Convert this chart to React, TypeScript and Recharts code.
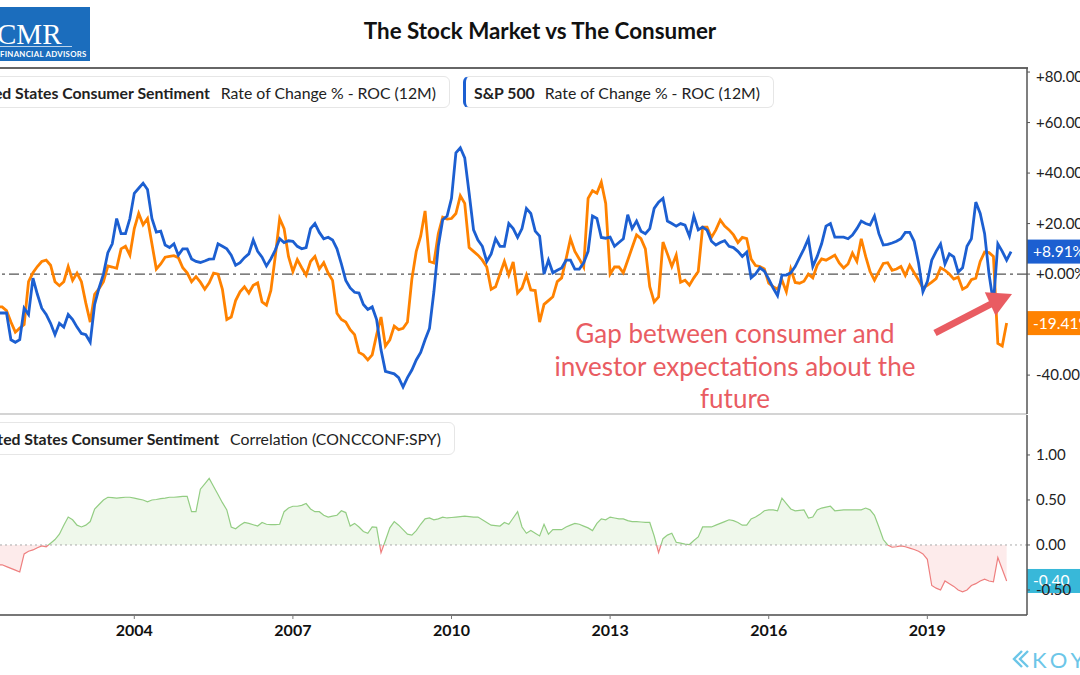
import { LineChart, Line, AreaChart, Area, XAxis, YAxis, ReferenceLine } from "recharts";

// monthly series, first point = May 2001
const startYear = 2001;
const startMonth = 5;

const sentimentRoc = [
  -12, -13, -13, -14.5, -19, -23, -21.4, -20, -3, 0.5,
  3, 5, 5.5, 3.5, -3, -4.6, -3, 3, -2.5, 0.4,
  -3, -11.5, -19, -8, -5.8, -3, 3.2, 2.8, 2.3, 10,
  11, 7.5, 18, 24, 19.5, 22, 12, 2, 4, 6.7,
  7, 7.3, 6.5, 2.5, 0.5, -3, -1, -3.2, -6, -3.5,
  0.4, 0, -6, -18, -17, -10.5, -7, -5, -7.5, -4.4,
  -3.5, -11, -12.3, -6.5, 7, 22, 18, 7, 1, 5.7,
  2.5, -0.4, 5, 7, 2, 4.5, 0.4, -2.5, -15.5, -18,
  -19, -22, -24, -31, -32, -34, -32, -24, -17, -28.5,
  -26, -20.6, -22, -21.5, -19, -2, 9, 15, 25, 5,
  4.4, 16, 22.5, 21.8, 22, 24, 31, 28, 10.5, 9,
  7.5, 5.5, 2.8, -6, -5, 0, 5, -0.4, 4.8, -7.5,
  -5.5, -0.4, -6.3, -6.5, -19, -12, -10.5, -9, -3, -1.5,
  6, 14, 9, 6, 2.8, 30, 33, 32, 36.4, 28,
  0, 2.8, 2.8, 0.5, 5.5, 10.5, 15.5, 14, 10, -5,
  -11, -9, 12.7, 8, 3, 7.5, -3.2, -2.4, -4.4, -1.5,
  1, 18.6, 18.6, 14.5, 17.5, 21.4, 19, 17.5, 15.5, 12.5,
  14.5, 14, 6, 3.4, 3, 2, -3.6, -5, -6, -2.4,
  -7, 2, -3.3, -3.6, -2.8, 0, -1.5, 3.5, 6, 5.5,
  6.5, 7.5, 4.4, 2.4, 4, 8.3, 5, 14, 7, 1,
  -2.4, 1, 4.2, 4.5, 1.5, 2, 3, -0.5, 3.5, 0.5,
  -2.4, -5.5, -4.5, -3.2, -1.8, 2.5, 1.5, 0, -2, -1.2,
  -6, -5, -2.2, -1.6, 5, 8.7, 8.5, 7, -27.5, -28.5,
  -19.41,
];

const spxRoc = [
  -15, -15.4, -15.4, -15.4, -26, -27, -26, -13.5, -16, -1.6,
  -8, -13.5, -16, -19.5, -24, -19.5, -21, -16, -18, -21,
  -23.5, -24, -27, -12, -5.5, 0, 8.5, 12, 22, 16,
  16, 22, 32, 34, 36, 33.5, 22, 16.6, 17, 11.5,
  10.5, 12, 7.5, 10, 10, 6, 5, 4.6, 5.2, 5.9,
  6, 12, 11, 10, 7.5, 3.5, 4.5, 6.5, 8, 13.5,
  9, 6.7, 3.2, 6, 9.5, 14, 12.5, 13.2, 13, 11,
  10, 10.5, 18, 20, 16.5, 14, 14.6, 13.5, 10, 4,
  -2.5, -5.5, -7.2, -7.5, -12, -14, -13, -18, -30, -38.5,
  -39, -39.5, -41, -44.7, -41, -38, -34, -31, -26, -21.5,
  -7, 11, 21.5, 23, 30, 48, 50, 46, 32, 17.5,
  13.5, 11, 5, 8, 14, 11, 11, 20, 18, 14.5,
  18, 26, 24, 17, 15, 0, 5.5, 0.5, 1.5, 2.4,
  5.5, 5.5, 2, 2, 4.5, 9, 23, 22, 14.5, 14.2,
  14.6, 11, 12.5, 14, 23.5, 18, 21, 17, 16, 18,
  26, 28.5, 30, 21, 20, 19, 20, 19.4, 15, 23,
  17.5, 18.6, 17.4, 13, 11.5, 12.5, 13.2, 11, 10.5, 9,
  7, 8.7, -1.5, 0, 2.5, 1.2, -2, -5.5, -8.5, -0.4,
  -0.4, 0.5, 3, 6.5, 10, 14, 3, 7, 12, 19,
  20, 14.6, 14.6, 14.6, 14, 15.5, 18, 21, 20, 19.4,
  23, 16, 11.5, 11.8, 12.3, 13, 14, 16.5, 16.5, 13,
  4.5, -7, -3, 5.5, 9, 11.9, 4, 8, 6.8, 0.8,
  2.5, 11, 14, 28.5, 24, 16, 0, -11.5, 12, 9,
  5.5, 8.91,
];

const correlation = [
  -0.21, -0.22, -0.22, -0.24, -0.26, -0.28, -0.3, -0.1, -0.07, -0.055,
  -0.03, -0.01, -0.02, 0.02, 0.06, 0.12, 0.22, 0.31, 0.28, 0.22,
  0.2, 0.22, 0.26, 0.4, 0.45, 0.5, 0.53, 0.525, 0.52, 0.525,
  0.53, 0.53, 0.52, 0.51, 0.5, 0.48, 0.5, 0.505, 0.515, 0.52,
  0.53, 0.53, 0.535, 0.54, 0.54, 0.37, 0.37, 0.62, 0.68, 0.74,
  0.65, 0.56, 0.47, 0.39, 0.2, 0.18, 0.22, 0.25, 0.24, 0.225,
  0.21, 0.25, 0.23, 0.225, 0.225, 0.23, 0.37, 0.41, 0.43, 0.43,
  0.44, 0.46, 0.4, 0.37, 0.37, 0.33, 0.31, 0.32, 0.33, 0.38,
  0.36, 0.21, 0.24, 0.2, 0.15, 0.13, 0.2, 0.195, -0.085, 0.05,
  0.19, 0.26, 0.22, 0.17, 0.12, 0.11, 0.16, 0.23, 0.29, 0.3,
  0.28, 0.29, 0.31, 0.3, 0.305, 0.31, 0.315, 0.32, 0.315, 0.31,
  0.31, 0.28, 0.25, 0.22, 0.215, 0.21, 0.25, 0.23, 0.3, 0.37,
  0.2, 0.13, 0.16, 0.13, 0.1, 0.23, 0.12, 0.17, 0.17, 0.17,
  0.2, 0.22, 0.24, 0.23, 0.21, 0.19, 0.16, 0.24, 0.29, 0.28,
  0.31, 0.3, 0.29, 0.29, 0.27, 0.26, 0.26, 0.255, 0.25, 0.25,
  0.1, -0.085, 0.07, 0.11, 0.13, 0.03, 0.02, 0.01, 0.005, 0.05,
  0.09, 0.2, 0.2, 0.2, 0.22, 0.24, 0.26, 0.28, 0.27, 0.25,
  0.22, 0.22, 0.29, 0.31, 0.34, 0.38, 0.39, 0.39, 0.38, 0.52,
  0.46, 0.4, 0.38, 0.385, 0.39, 0.3, 0.31, 0.39, 0.41, 0.42,
  0.43, 0.38, 0.385, 0.39, 0.39, 0.39, 0.39, 0.39, 0.41, 0.39,
  0.33, 0.2, 0.06, 0, -0.025, -0.02, -0.01, -0.02, -0.035, -0.05,
  -0.07, -0.1, -0.16, -0.45, -0.48, -0.5, -0.4, -0.43, -0.46, -0.5,
  -0.52, -0.5, -0.45, -0.43, -0.4, -0.38, -0.4, -0.41, -0.14, -0.27,
  -0.4,
];

const yearTicks = [2004, 2007, 2010, 2013, 2016, 2019];
const rocTicks = [-40, 0, 20, 40, 60, 80];
const corrTicks = [-0.5, 0, 0.5, 1];

const viewStart = 2001.46;
const viewEnd = 2020.885;
const rocDomain = [-55.4, 81.6];
const corrDomain = [-0.778, 1.444];

const FONT = "Lato, 'Open Sans', sans-serif";
const BLUE = "#1c5fd1";
const ORANGE = "#ff8200";
const CYAN = "#38b8d9";
const CORAL = "#e95c62";

const monthTime = (i: number) => startYear + (startMonth - 1 + i) / 12;

const rocRows = spxRoc.map((v, i) => ({
  t: monthTime(i),
  spx: v,
  sentiment: sentimentRoc[i],
}));
const corrRows = correlation.map((v, i) => ({ t: monthTime(i), corr: v }));

const spxLast = spxRoc[spxRoc.length - 1];
const sentimentLast = sentimentRoc[sentimentRoc.length - 1];
const corrLast = correlation[correlation.length - 1];

const corrMax = Math.max(...correlation);
const corrMin = Math.min(...correlation);
const zeroOffset = corrMax / (corrMax - corrMin);

const fmtPct = (v: number) => `${v >= 0 ? "+" : ""}${v.toFixed(2)}%`;

const Badge = (props: any) => {
  const { viewBox, fill, text } = props;
  if (!viewBox) return null;
  const x = viewBox.x + viewBox.width;
  const y = viewBox.y;
  return (
    <g>
      <rect x={x} y={y - 12} width={80} height={24} fill={fill} />
      <text x={x + 6} y={y + 5.5} fill="#fff" fontSize={15.5} fontFamily={FONT}>
        {text}
      </text>
    </g>
  );
};

const axisTick = { fill: "#222", fontSize: 15, fontFamily: FONT };

const legendBox: React.CSSProperties = {
  position: "absolute",
  height: 32,
  boxSizing: "border-box",
  border: "1px solid #e6e6e6",
  borderRadius: 6,
  display: "flex",
  alignItems: "center",
  whiteSpace: "nowrap",
  fontSize: 15.8,
  color: "#222",
  background: "#fff",
  paddingRight: 13,
};

export default function App() {
  return (
    <div
      style={{
        position: "absolute",
        left: 0,
        top: 0,
        width: 1080,
        height: 675,
        overflow: "hidden",
        background: "#fff",
        fontFamily: FONT,
      }}
    >
      {/* logo */}
      <div style={{ position: "absolute", left: 0, top: 7, width: 90, height: 54, background: "#1b6dbd" }}>
        <div style={{ position: "absolute", left: -3, top: 12, fontFamily: "'Liberation Serif', serif", fontSize: 29, lineHeight: "30px", color: "#fff" }}>
          CMR
        </div>
        <div style={{ position: "absolute", left: 0, top: 39, width: 72, height: 1, background: "rgba(255,255,255,0.7)" }} />
        <div style={{ position: "absolute", left: 0, top: 42, fontSize: 7.8, fontWeight: 700, letterSpacing: 0.3, color: "#fff" }}>
          FINANCIAL ADVISORS
        </div>
      </div>

      <div style={{ position: "absolute", left: 0, width: 1080, top: 17, textAlign: "center", fontSize: 22.4, fontWeight: 700, color: "#111" }}>
        The Stock Market vs The Consumer
      </div>

      <div style={{ position: "absolute", left: 0, top: 67, width: 1028, height: 2, background: "#666" }} />
      <div style={{ position: "absolute", left: 0, top: 413, width: 1027, height: 2, background: "#d4d4d4" }} />

      {/* top panel */}
      <div style={{ position: "absolute", left: 0, top: 68 }}>
        <LineChart width={1100} height={346} data={rocRows} margin={{ top: 0, right: 0, bottom: 0, left: 0 }}>
          <XAxis type="number" dataKey="t" domain={[viewStart, viewEnd]} allowDataOverflow hide />
          <YAxis
            orientation="right"
            width={73}
            domain={rocDomain}
            allowDataOverflow
            ticks={rocTicks}
            tickFormatter={fmtPct}
            tick={axisTick}
            axisLine={{ stroke: "#555", strokeWidth: 1.5 }}
            tickLine={{ stroke: "#555" }}
            tickSize={3}
            tickMargin={6}
          />
          <ReferenceLine y={0} stroke="#555" strokeWidth={1.2} strokeDasharray="10 4 3 4" />
          <Line dataKey="sentiment" type="linear" stroke={ORANGE} strokeWidth={2.8} dot={false} isAnimationActive={false} />
          <Line dataKey="spx" type="linear" stroke={BLUE} strokeWidth={2.8} dot={false} isAnimationActive={false} />
          <ReferenceLine y={spxLast} stroke="none" label={<Badge fill={BLUE} text={fmtPct(spxLast)} />} />
          <ReferenceLine y={sentimentLast} stroke="none" label={<Badge fill={ORANGE} text={fmtPct(sentimentLast)} />} />
        </LineChart>
      </div>

      {/* bottom panel */}
      <div style={{ position: "absolute", left: 0, top: 415 }}>
        <AreaChart width={1100} height={240} data={corrRows} margin={{ top: 0, right: 0, bottom: 0, left: 0 }}>
          <defs>
            <linearGradient id="corrStroke" x1="0" y1="0" x2="0" y2="1">
              <stop offset={zeroOffset} stopColor="#93cd83" />
              <stop offset={zeroOffset} stopColor="#ee7f7f" />
            </linearGradient>
            <linearGradient id="corrFill" x1="0" y1="0" x2="0" y2="1">
              <stop offset={zeroOffset} stopColor="#eff8eb" />
              <stop offset={zeroOffset} stopColor="#fdebeb" />
            </linearGradient>
          </defs>
          <XAxis
            type="number"
            dataKey="t"
            domain={[viewStart, viewEnd]}
            allowDataOverflow
            ticks={yearTicks}
            interval={0}
            tickFormatter={(v: number) => String(v)}
            tick={{ fill: "#111", fontSize: 16, fontWeight: 700, fontFamily: FONT }}
            axisLine={{ stroke: "#777", strokeWidth: 2 }}
            tickLine={{ stroke: "#777" }}
            tickSize={4}
            tickMargin={6}
            height={40}
          />
          <YAxis
            orientation="right"
            width={73}
            domain={corrDomain}
            allowDataOverflow
            ticks={corrTicks}
            tickFormatter={(v: number) => v.toFixed(2)}
            tick={axisTick}
            axisLine={{ stroke: "#555", strokeWidth: 1.5 }}
            tickLine={{ stroke: "#555" }}
            tickSize={3}
            tickMargin={6}
          />
          <ReferenceLine y={0} stroke="#aaa" strokeDasharray="2 3" />
          <Area
            dataKey="corr"
            type="linear"
            baseValue={0}
            stroke="url(#corrStroke)"
            strokeWidth={1.2}
            fill="url(#corrFill)"
            fillOpacity={1}
            isAnimationActive={false}
          />
          <ReferenceLine y={corrLast} stroke="none" label={<Badge fill={CYAN} text={corrLast.toFixed(2)} />} />
        </AreaChart>
      </div>

      {/* legends */}
      <div style={{ ...legendBox, right: 630, top: 76 }}>
        <span style={{ fontWeight: 700 }}>United States Consumer Sentiment</span>
        <span style={{ marginLeft: 11 }}>Rate of Change % - ROC (12M)</span>
      </div>
      <div style={{ ...legendBox, left: 463, top: 76, borderLeft: `3px solid ${BLUE}`, paddingLeft: 8 }}>
        <span style={{ fontWeight: 700 }}>S&amp;P 500</span>
        <span style={{ marginLeft: 10 }}>Rate of Change % - ROC (12M)</span>
      </div>
      <div style={{ ...legendBox, right: 625, top: 422, height: 33 }}>
        <span style={{ fontWeight: 700 }}>United States Consumer Sentiment</span>
        <span style={{ marginLeft: 11 }}>Correlation (CONCCONF:SPY)</span>
      </div>

      {/* annotation */}
      <div style={{ position: "absolute", left: 515, top: 317, width: 440, textAlign: "center", fontSize: 26, lineHeight: "32.5px", color: CORAL }}>
        <div>Gap between consumer and</div>
        <div>investor expectations about the</div>
        <div>future</div>
      </div>
      <svg width={1080} height={675} style={{ position: "absolute", left: 0, top: 0, pointerEvents: "none" }}>
        <line x1={935} y1={333} x2={991} y2={304} stroke={CORAL} strokeWidth={7} />
        <polygon points="984.8,292.2 1012,294 995.6,315.8" fill={CORAL} />
        <g fill="none" stroke="#6cc6e8" strokeWidth={2.4}>
          <polyline points="1022,651 1014,659 1022,667" />
          <polyline points="1028,651 1020,659 1028,667" />
        </g>
      </svg>
      <div style={{ position: "absolute", left: 1032, top: 646, fontSize: 22, letterSpacing: 4, color: "#6cc6e8" }}>
        KOYFIN
      </div>
    </div>
  );
}
